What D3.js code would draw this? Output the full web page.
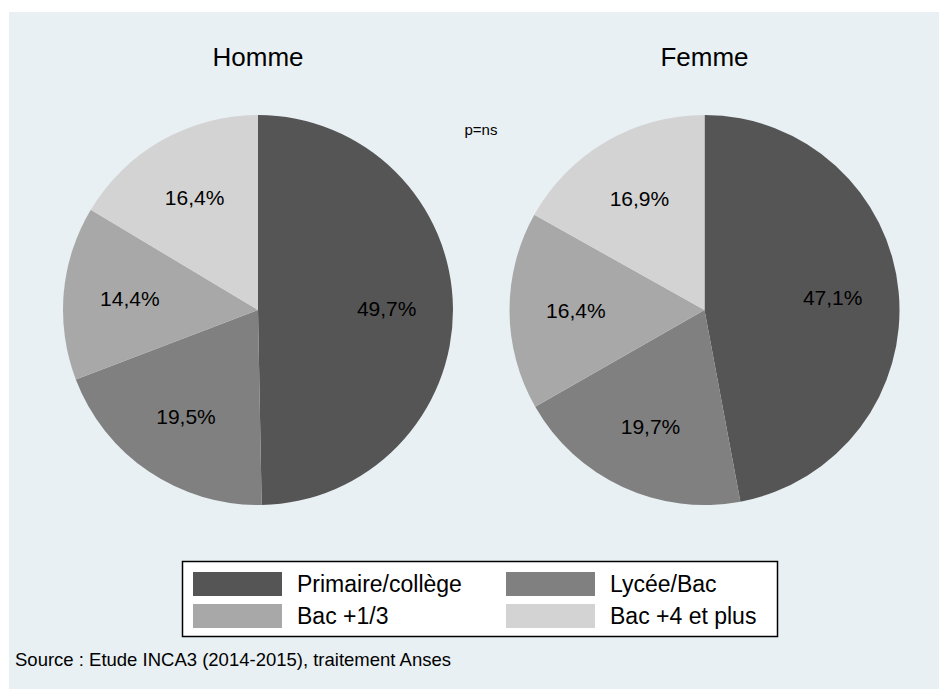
<!DOCTYPE html>
<html>
<head>
<meta charset="utf-8">
<script src="https://cdn.jsdelivr.net/npm/d3@7"></script>
<style>
  body { margin: 0; background: #ffffff; }
  svg text { font-family: Arial, "Liberation Sans", sans-serif; fill: #000; }
</style>
</head>
<body>
<div id="chart"></div>
<script>
// categories and values
var categories = ["Primaire/collège", "Lycée/Bac", "Bac +1/3", "Bac +4 et plus"]
var groups = ["Homme", "Femme"]
var hommeValues = [49.7, 19.5, 14.4, 16.4]
var femmeValues = [47.1, 19.7, 16.4, 16.9]
var colors = ["#555555", "#808080", "#a8a8a8", "#d3d3d3"]

var width = 939, height = 689

var svg = d3.select("#chart")
    .append("svg")
    .attr("width", width)
    .attr("height", height)

// panel background
svg.append("rect")
    .attr("x", 9)
    .attr("y", 12)
    .attr("width", width - 9)
    .attr("height", height - 12)
    .attr("fill", "#e8f0f3")

var radius = 195
var centerX = d3.scalePoint().domain(groups).range([258, 704.5])
var centerY = 310

var pie = d3.pie().sort(null).value(function (d) { return d.value })
var arc = d3.arc().innerRadius(0).outerRadius(radius)
var labelArc = d3.arc().innerRadius(radius * 0.66).outerRadius(radius * 0.66)

var fmt = function (v) { return d3.format(".1f")(v).replace(".", ",") + "%" }

var seriesByGroup = { "Homme": hommeValues, "Femme": femmeValues }

groups.forEach(function (g) {
    var data = seriesByGroup[g].map(function (v, i) {
        return { cat: categories[i], value: v, color: colors[i] }
    })
    var gEl = svg.append("g")
        .attr("transform", "translate(" + centerX(g) + "," + centerY + ")")

    var arcs = pie(data)

    gEl.selectAll("path")
        .data(arcs)
        .enter()
        .append("path")
        .attr("d", arc)
        .attr("fill", function (d) { return d.data.color })

    gEl.selectAll("text.lbl")
        .data(arcs)
        .enter()
        .append("text")
        .attr("class", "lbl")
        .attr("transform", function (d) { return "translate(" + labelArc.centroid(d) + ")" })
        .attr("text-anchor", "middle")
        .attr("dy", "0.35em")
        .style("font-size", "21px")
        .text(function (d) { return fmt(d.data.value) })

    svg.append("text")
        .attr("x", centerX(g))
        .attr("y", 66)
        .attr("text-anchor", "middle")
        .style("font-size", "26px")
        .text(g)
})

svg.append("text")
    .attr("x", 481)
    .attr("y", 135)
    .attr("text-anchor", "middle")
    .style("font-size", "15px")
    .text("p=ns")

// legend
svg.append("rect")
    .attr("x", 182.5)
    .attr("y", 561.5)
    .attr("width", 595)
    .attr("height", 75)
    .attr("fill", "#ffffff")
    .attr("stroke", "#000")
    .attr("stroke-width", 1.5)

var legX = d3.scaleOrdinal().domain([0, 1]).range([193, 506])
var legY = d3.scaleOrdinal().domain([0, 1]).range([572, 604])

categories.forEach(function (c, i) {
    var col = i % 2, row = Math.floor(i / 2)
    svg.append("rect")
        .attr("x", legX(col))
        .attr("y", legY(row))
        .attr("width", 89)
        .attr("height", 24)
        .attr("fill", colors[i])
    svg.append("text")
        .attr("x", legX(col) + 104)
        .attr("y", legY(row) + 20)
        .style("font-size", "23px")
        .text(c)
})

svg.append("text")
    .attr("x", 15)
    .attr("y", 666)
    .style("font-size", "18.5px")
    .text("Source : Etude INCA3 (2014-2015), traitement Anses")
</script>
</body>
</html>
